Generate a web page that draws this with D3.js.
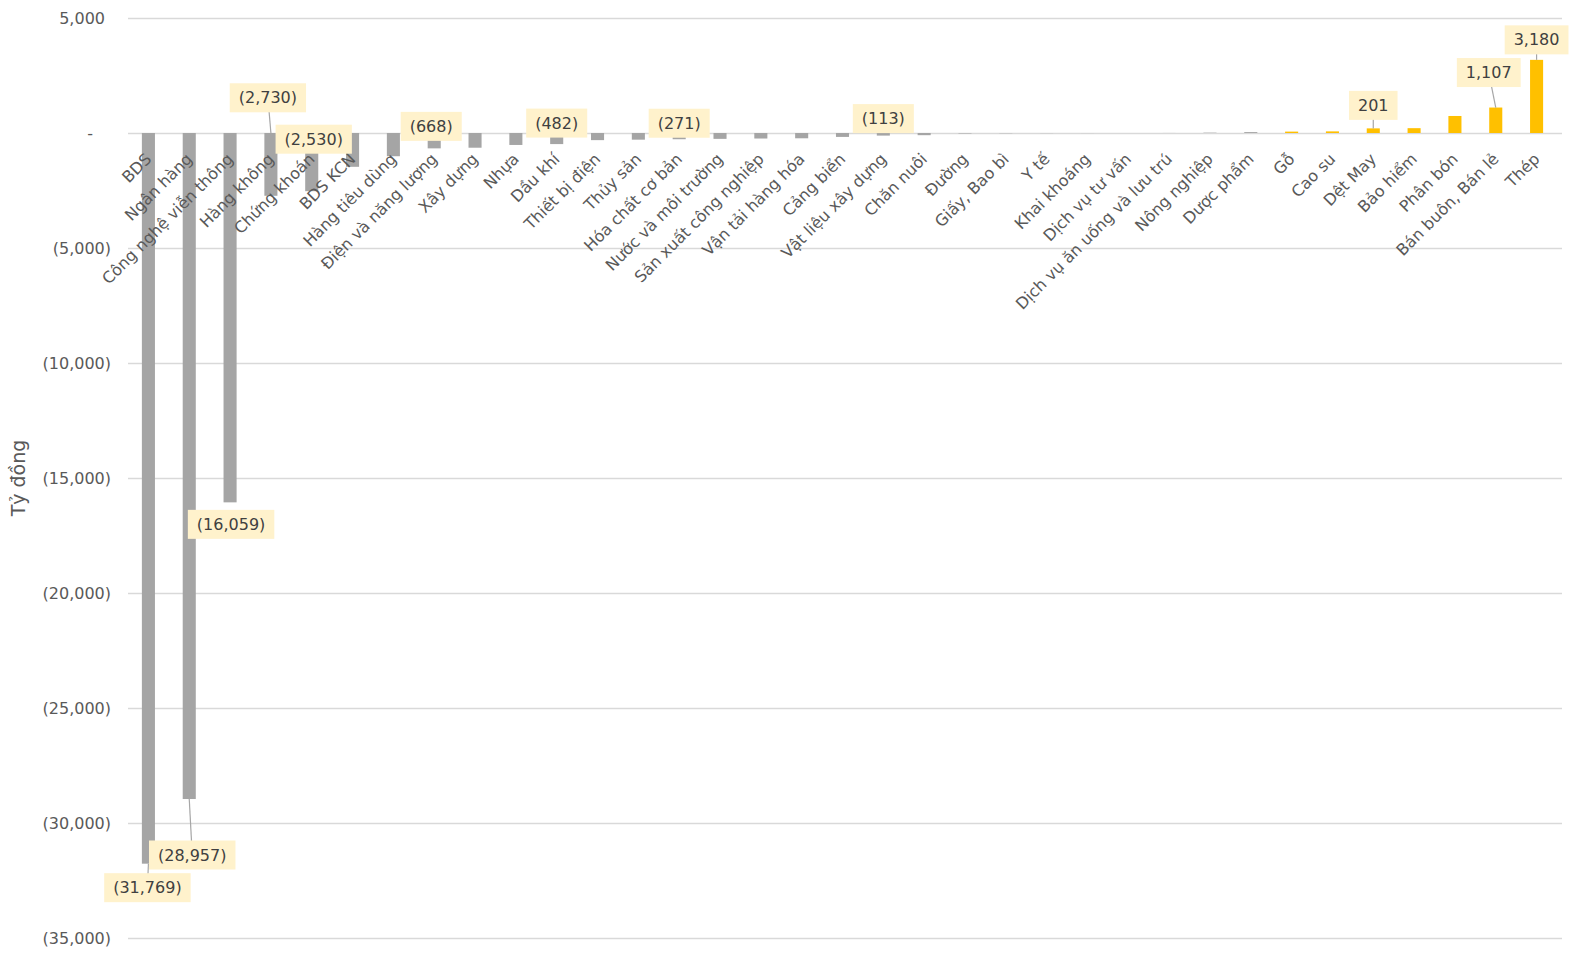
<!DOCTYPE html>
<html>
  <head>
    <meta charset="utf-8">
    <title>Tỷ đồng theo ngành</title>
    <script src="https://d3js.org/d3.v7.min.js"></script>
    <style>
      body { margin: 0; background: #fff; }
      #chart { display: block; width: 1575px; height: 955px; font-family: "DejaVu Sans", Verdana, sans-serif; }
      .axis text { fill: #595959; font-size: 16px; font-family: "DejaVu Sans", Verdana, sans-serif; }
      .axis line { stroke: #d9d9d9; stroke-width: 1.5; }
      .axis path { display: none; }
      .catLabel { fill: #595959; font-size: 16px; }
      .yTitle { fill: #595959; font-size: 19px; }
      .valLabel { fill: #404040; font-size: 16px; }
    </style>
  </head>
  <body>
    <svg id="chart">
      <g id="yAxisGroup" class="axis"></g>
      <g id="chartGroup"></g>
      <g id="xLabelGroup"></g>
      <g id="labelGroup"></g>
    </svg>
    <script>
      // data
      var categories = ["BDS", "Ngân hàng", "Công nghệ viễn thông", "Hàng không", "Chứng khoán", "BDS KCN",
        "Hàng tiêu dùng", "Điện và năng lượng", "Xây dựng", "Nhựa", "Dầu khí", "Thiết bị điện", "Thủy sản",
        "Hóa chất cơ bản", "Nước và môi trường", "Sản xuất công nghiệp", "Vận tải hàng hóa", "Cảng biển",
        "Vật liệu xây dựng", "Chăn nuôi", "Đường", "Giấy, Bao bì", "Y tế", "Khai khoáng", "Dịch vụ tư vấn",
        "Dịch vụ ăn uống và lưu trú", "Nông nghiệp", "Dược phẩm", "Gỗ", "Cao su", "Dệt May", "Bảo hiểm",
        "Phân bón", "Bán buôn, Bán lẻ", "Thép"];
      var values = [-31769, -28957, -16059, -2730, -2530, -1470, -1010, -668, -640, -520, -482, -310, -290,
        -271, -255, -240, -230, -170, -113, -95, -20, -10, -5, -2, 0,
        2, 15, 40, 60, 70, 201, 210, 740, 1107, 3180];
      var yTicks = [5000, 0, -5000, -10000, -15000, -20000, -25000, -30000, -35000];
      var yTitle = "Tỷ đồng";
      // callouts: which bars are labelled, where the box sits relative to the bar end, and leader lines
      var callouts = [
        { name: "BDS", dx: -1, dy: 24, leader: true },
        { name: "Ngân hàng", dx: 3, dy: 56, leader: true },
        { name: "Công nghệ viễn thông", dx: 1, dy: 22, leader: false },
        { name: "Hàng không", dx: -3, dy: -98, leader: true },
        { name: "Chứng khoán", dx: 2, dy: -52, leader: false },
        { name: "Điện và năng lượng", dx: -3, dy: -22, leader: false },
        { name: "Dầu khí", dx: 0, dy: -21, leader: false },
        { name: "Hóa chất cơ bản", dx: 0, dy: -16, leader: false },
        { name: "Vật liệu xây dựng", dx: 0, dy: -17, leader: false },
        { name: "Dệt May", dx: 0, dy: -23, leader: true },
        { name: "Bán buôn, Bán lẻ", dx: -7, dy: -35, leader: true },
        { name: "Thép", dx: 0, dy: -20, leader: true }
      ];

      var margin = { top: 18, right: 18, bottom: 17, left: 128 };
      var width = 1575, height = 955;
      var gridRight = 1562;

      var x = d3.scaleBand()
        .domain(categories)
        .range([margin.left, width - margin.right])
        .paddingInner(0.68)
        .paddingOuter(0.34);
      var y = d3.scaleLinear()
        .domain([-35000, 5000])
        .range([height - margin.bottom, margin.top]);

      var fmt = d3.format(",");
      function numText(v) {
        if (v === 0) return "-";
        return v < 0 ? "(" + fmt(-v) + ")" : fmt(v);
      }

      // y axis with gridlines (accounting style: positives leave room for the closing paren)
      var yAxis = d3.axisLeft(y)
        .tickValues(yTicks)
        .tickSize(-(gridRight - margin.left))
        .tickPadding(17)
        .tickFormat(numText);
      var yAxisGroup = d3.select("#yAxisGroup")
        .attr("transform", "translate(" + margin.left + ",0)")
        .call(yAxis);
      yAxisGroup.attr("font-family", null).attr("font-size", null);
      yAxisGroup.selectAll("text")
        .attr("dx", function(d) { return d === 0 ? -18 : (d > 0 ? -6 : 0); });

      d3.select("#chart").append("text")
        .attr("class", "yTitle")
        .attr("transform", "translate(25,478) rotate(-90)")
        .attr("text-anchor", "middle")
        .text(yTitle);

      // bars
      var data = categories.map(function(c, i) { return { name: c, value: values[i] }; });
      d3.select("#chartGroup").selectAll("rect")
          .data(data)
        .enter().append("rect")
          .attr("x", function(d) { return x(d.name); })
          .attr("width", x.bandwidth())
          .attr("y", function(d) { return y(Math.max(0, d.value)); })
          .attr("height", function(d) { return Math.abs(y(d.value) - y(0)); })
          .attr("fill", function(d) { return d.value >= 50 ? "#ffc000" : "#a5a5a5"; });

      // category labels
      d3.select("#xLabelGroup").selectAll("text")
          .data(categories)
        .enter().append("text")
          .attr("class", "catLabel")
          .attr("text-anchor", "end")
          .attr("transform", function(d) {
            return "translate(" + (x(d) + x.bandwidth() / 2 + 4) + ",160) rotate(-45)";
          })
          .text(function(d) { return d; });

      // value callouts
      var labelGroup = d3.select("#labelGroup");
      callouts.forEach(function(c) {
        var v = values[categories.indexOf(c.name)];
        var cx = x(c.name) + x.bandwidth() / 2;
        var ey = y(v);
        var bx = cx + c.dx, by = ey + c.dy;
        var g = labelGroup.append("g");
        if (c.leader) {
          var top = Math.min(y(0), ey), bottom = Math.max(y(0), ey);
          var ay = Math.max(top, Math.min(bottom, by));
          g.append("line")
            .attr("x1", cx).attr("y1", ay)
            .attr("x2", bx).attr("y2", by)
            .attr("stroke", "#a6a6a6")
            .attr("stroke-width", 1.2);
        }
        var box = g.append("rect").attr("fill", "#fff2cc");
        var t = g.append("text")
          .attr("class", "valLabel")
          .attr("x", bx)
          .attr("y", by)
          .attr("dy", "0.35em")
          .attr("text-anchor", "middle")
          .text(numText(v));
        var w = t.node().getComputedTextLength() + 18;
        box.attr("x", bx - w / 2).attr("y", by - 14.5).attr("width", w).attr("height", 29);
      });
    </script>
  </body>
</html>
